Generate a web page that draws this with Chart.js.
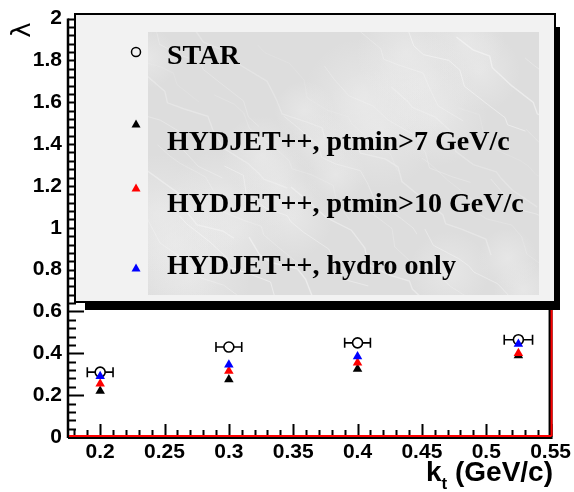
<!DOCTYPE html>
<html>
<head>
<meta charset="utf-8">
<script src="https://cdn.jsdelivr.net/npm/chart.js@4.4.0/dist/chart.umd.min.js"></script>
<style>
  body { margin: 0; background: #fff; }
  #wrap { width: 574px; height: 492px; }
</style>
</head>
<body>
<div id="wrap"><canvas id="lambda_chart" width="574" height="492"></canvas></div>
<script>
// k_t bins and lambda values
const kt = [0.2, 0.3, 0.4, 0.525];
const starLambda = [0.31, 0.43, 0.45, 0.465];
const starKtErr = [0.01, 0.01, 0.01, 0.011];
const ptmin7Lambda = [0.22, 0.275, 0.325, 0.39];
const ptmin10Lambda = [0.255, 0.315, 0.355, 0.40];
const hydroLambda = [0.29, 0.345, 0.385, 0.445];

const xTicks = [0.2, 0.25, 0.3, 0.35, 0.4, 0.45, 0.5, 0.55];
const yTicks = [0, 0.2, 0.4, 0.6, 0.8, 1, 1.2, 1.4, 1.6, 1.8, 2];
const legendLabels = ['STAR', 'HYDJET++, ptmin>7 GeV/c', 'HYDJET++, ptmin>10 GeV/c', 'HYDJET++, hydro only'];

const canvas = document.getElementById('lambda_chart');

function points(ys) {
  return kt.map((x, i) => ({ x: x, y: ys[i] }));
}

function drawMarble(ctx, x, y, w, h) {
  ctx.save();
  ctx.beginPath();
  ctx.rect(x, y, w, h);
  ctx.clip();
  ctx.fillStyle = '#dddddd';
  ctx.fillRect(x, y, w, h);
  // soft light patches
  for (let i = 0; i < 22; i++) {
    const cx = x + w * ((i * 0.37) % 1);
    const cy = y + h * ((i * 0.61 + 0.1) % 1);
    const r = 30 + (i % 4) * 10;
    const g = ctx.createRadialGradient(cx, cy, 0, cx, cy, r);
    g.addColorStop(0, 'rgba(238,238,238,0.55)');
    g.addColorStop(1, 'rgba(238,238,238,0)');
    ctx.fillStyle = g;
    ctx.fillRect(cx - r, cy - r, 2 * r, 2 * r);
  }
  // thin veins running down to the right
  for (let i = 0; i < 30; i++) {
    const sx = x - 90 + i * 17 + 9 * Math.sin(i * 3.1);
    const sy = y + ((i * 71) % h) - 50;
    ctx.beginPath();
    ctx.moveTo(sx, sy);
    for (let k = 1; k <= 10; k++) {
      ctx.lineTo(sx + k * 14 + 7 * Math.sin(i * 1.3 + k * 1.9), sy + k * 12 + 6 * Math.cos(i * 2.2 + k * 1.1));
    }
    ctx.strokeStyle = 'rgba(250,250,250,' + (0.25 + (i % 4) * 0.08) + ')';
    ctx.lineWidth = 0.6 + (i % 3) * 0.4;
    ctx.stroke();
  }
  ctx.restore();
}

function drawTriangle(ctx, x, y, r, color) {
  ctx.beginPath();
  ctx.moveTo(x, y - r);
  ctx.lineTo(x + r, y + r * 0.8);
  ctx.lineTo(x - r, y + r * 0.8);
  ctx.closePath();
  ctx.fillStyle = color;
  ctx.fill();
}

// horizontal k_t error bars of the STAR points
const errorBars = {
  id: 'errorBars',
  beforeDatasetsDraw(chart) {
    const ctx = chart.ctx;
    const xs = chart.scales.x, ys = chart.scales.y;
    ctx.save();
    ctx.strokeStyle = '#000';
    ctx.lineWidth = 1.6;
    kt.forEach((k, i) => {
      const x1 = xs.getPixelForValue(k - starKtErr[i]);
      const x2 = xs.getPixelForValue(k + starKtErr[i]);
      const py = ys.getPixelForValue(starLambda[i]);
      ctx.beginPath();
      ctx.moveTo(x1, py); ctx.lineTo(x2, py);
      ctx.moveTo(x1, py - 5); ctx.lineTo(x1, py + 5);
      ctx.moveTo(x2, py - 5); ctx.lineTo(x2, py + 5);
      ctx.stroke();
    });
    ctx.restore();
  }
};

// frame, inner ticks and the legend box
const frame = {
  id: 'frame',
  afterDraw(chart) {
    const ctx = chart.ctx;
    const a = chart.chartArea;
    const xs = chart.scales.x, ys = chart.scales.y;
    ctx.save();

    // ticks
    ctx.strokeStyle = '#000';
    ctx.lineWidth = 2;
    ctx.beginPath();
    for (let i = 0; i <= 50; i++) {
      const v = i * 0.04;
      const py = Math.round(ys.getPixelForValue(v)) + 0.5;
      const len = (i % 5 === 0) ? 16 : 8;
      ctx.moveTo(a.left, py); ctx.lineTo(a.left + len, py);
    }
    for (let i = 18; i <= 55; i++) {
      const v = i * 0.01;
      const px = Math.round(xs.getPixelForValue(v)) + 0.5;
      const len = (i % 5 === 0) ? 13 : 7;
      ctx.moveTo(px, a.bottom); ctx.lineTo(px, a.bottom - len);
    }
    ctx.stroke();

    // axes
    ctx.lineWidth = 2.5;
    ctx.beginPath();
    ctx.moveTo(a.left, a.top); ctx.lineTo(a.left, a.bottom + 1);
    ctx.stroke();
    ctx.lineWidth = 4;
    ctx.beginPath();
    ctx.moveTo(a.left, a.bottom); ctx.lineTo(a.right + 2, a.bottom);
    ctx.moveTo(a.right, a.top); ctx.lineTo(a.right, a.bottom);
    ctx.stroke();
    ctx.strokeStyle = '#ff0000';
    ctx.lineWidth = 2;
    ctx.beginPath();
    ctx.moveTo(a.left + 1, a.bottom - 1); ctx.lineTo(a.right + 1, a.bottom - 1);
    ctx.moveTo(a.right + 1, a.top); ctx.lineTo(a.right + 1, a.bottom - 1);
    ctx.stroke();

    // legend box with shadow
    const bx = 75, by = 14, bw = 480, bh = 288;
    ctx.fillStyle = '#000';
    ctx.fillRect(bx + 10, by + bh, bw - 5, 8);
    ctx.fillRect(bx + bw, by + 13, 5, bh - 5);
    ctx.fillStyle = '#f2f2f2';
    ctx.fillRect(bx, by, bw, bh);
    ctx.strokeStyle = '#000';
    ctx.lineWidth = 2;
    ctx.strokeRect(bx, by, bw, bh);
    drawMarble(ctx, 148, 32, 391, 263);

    // legend entries
    ctx.strokeStyle = '#000';
    ctx.lineWidth = 1.5;
    ctx.beginPath();
    ctx.arc(136, 52, 4.5, 0, Math.PI * 2);
    ctx.stroke();
    drawTriangle(ctx, 136, 124, 4.5, '#000');
    drawTriangle(ctx, 136, 188, 4.5, '#ff0000');
    drawTriangle(ctx, 136, 268, 4.5, '#0000ff');

    ctx.fillStyle = '#000';
    ctx.font = 'bold 28px "Liberation Serif", "Times New Roman", serif';
    ctx.textBaseline = 'middle';
    ctx.textAlign = 'left';
    const textY = [57, 143, 205, 267];
    legendLabels.forEach((t, i) => ctx.fillText(t, 167, textY[i]));

    // axis titles
    ctx.font = 'bold 28px "Liberation Sans", Arial, sans-serif';
    ctx.textBaseline = 'alphabetic';
    ctx.textAlign = 'right';
    const rest = ' (GeV/c)';
    const restW = ctx.measureText(rest).width;
    ctx.fillText(rest, 553, 481);
    ctx.font = 'bold 17px "Liberation Sans", Arial, sans-serif';
    const tW = ctx.measureText('t').width;
    ctx.fillText('t', 553 - restW, 489);
    ctx.font = 'bold 28px "Liberation Sans", Arial, sans-serif';
    ctx.fillText('k', 553 - restW - tW, 481);

    ctx.translate(23, 30);
    ctx.rotate(-Math.PI / 2);
    ctx.font = '26px "DejaVu Sans", sans-serif';
    ctx.textAlign = 'center';
    ctx.textBaseline = 'middle';
    ctx.fillText('λ', 0, 0);
    ctx.restore();
  }
};

const tickFont = { family: '"Liberation Sans", Arial, sans-serif', size: 21, weight: 'bold' };

new Chart(canvas, {
  type: 'scatter',
  data: {
    datasets: [
      {
        label: legendLabels[0],
        data: points(starLambda),
        pointStyle: 'circle',
        pointRadius: 5,
        backgroundColor: '#fff',
        borderColor: '#000',
        borderWidth: 1.6,
        order: 4
      },
      {
        label: legendLabels[1],
        data: points(ptmin7Lambda),
        pointStyle: 'triangle',
        pointRadius: 5.5,
        backgroundColor: '#000',
        borderColor: '#000',
        borderWidth: 0,
        order: 3
      },
      {
        label: legendLabels[2],
        data: points(ptmin10Lambda),
        pointStyle: 'triangle',
        pointRadius: 5.5,
        backgroundColor: '#ff0000',
        borderColor: '#ff0000',
        borderWidth: 0,
        order: 2
      },
      {
        label: legendLabels[3],
        data: points(hydroLambda),
        pointStyle: 'triangle',
        pointRadius: 5.5,
        backgroundColor: '#0000ff',
        borderColor: '#0000ff',
        borderWidth: 0,
        order: 1
      }
    ]
  },
  options: {
    responsive: false,
    animation: false,
    layout: { padding: { top: 15, right: 23, left: 0, bottom: 0 } },
    plugins: {
      legend: { display: false },
      tooltip: { enabled: false }
    },
    scales: {
      x: {
        type: 'linear',
        min: 0.175,
        max: 0.55,
        grid: { display: false, drawTicks: false },
        border: { display: false },
        afterBuildTicks: scale => { scale.ticks = xTicks.map(v => ({ value: v })); },
        afterFit: scale => { scale.height = 55; },
        ticks: { color: '#000', font: tickFont, padding: 3, maxRotation: 0, callback: v => String(v) }
      },
      y: {
        type: 'linear',
        min: 0,
        max: 2,
        grid: { display: false, drawTicks: false },
        border: { display: false },
        afterBuildTicks: scale => { scale.ticks = yTicks.map(v => ({ value: v })); },
        afterFit: scale => { scale.width = 68; },
        ticks: { color: '#000', font: tickFont, padding: 6, callback: v => String(v) }
      }
    }
  },
  plugins: [errorBars, frame]
});
</script>
</body>
</html>
